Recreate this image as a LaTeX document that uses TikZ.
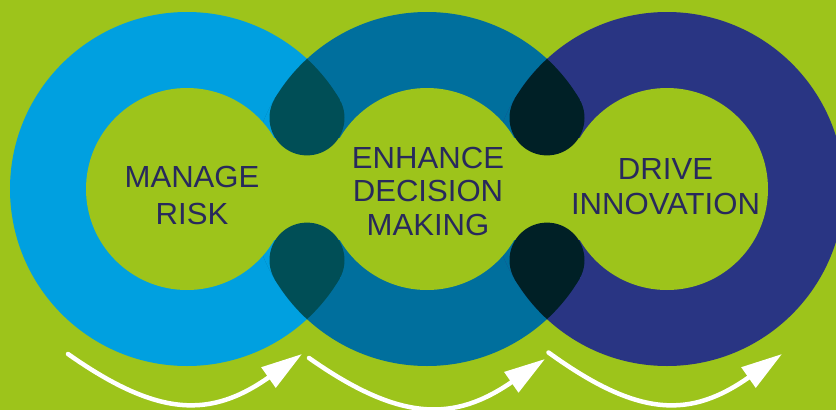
\documentclass[tikz,border=0pt]{standalone}
\usepackage{fontspec}
\setmainfont{Liberation Sans}
\usetikzlibrary{arrows.meta}
\definecolor{bggreen}{RGB}{157,196,27}
\definecolor{ringA}{RGB}{0,160,224}
\definecolor{ringB}{RGB}{0,111,157}
\definecolor{ringC}{RGB}{41,53,131}
\definecolor{dropA}{RGB}{0,78,86}
\definecolor{dropB}{RGB}{0,32,38}
\definecolor{txtnavy}{RGB}{40,41,92}
\begin{document}
\begin{tikzpicture}[x=1pt,y=-1pt,
  lbl/.style={text=txtnavy, font=\fontsize{30.5}{30.5}\selectfont, inner sep=0pt, anchor=base, xscale=1.02},
  flowarrow/.style={draw=white, line width=4.5pt, line cap=round, -{Triangle[length=41pt,width=24pt]}}]
\useasboundingbox (0,0) rectangle (836,410);
\clip (0,0) rectangle (836,410);
\fill[bggreen] (0,0) rectangle (836,410);
\coordinate (c1) at (187,189);
\coordinate (c2) at (427,189);
\coordinate (c3) at (667,189);
% rings
\fill[ringA] (c1) circle[radius=177pt];
\fill[ringB] (c2) circle[radius=177pt];
\fill[ringC] (c3) circle[radius=177pt];
% left halves of lenses keep the left ring colour
\begin{scope}
  \clip (c1) circle[radius=177pt];
  \clip (c2) circle[radius=177pt];
  \fill[ringA] (200,0) rectangle (307,410);
\end{scope}
\begin{scope}
  \clip (c2) circle[radius=177pt];
  \clip (c3) circle[radius=177pt];
  \fill[ringB] (440,0) rectangle (547,410);
\end{scope}
% inner green
\fill[bggreen] (c1) circle[radius=101pt];
\fill[bggreen] (c2) circle[radius=101pt];
\fill[bggreen] (c3) circle[radius=101pt];
\fill[bggreen] (274,137.7) rectangle (341,240.3);
\fill[bggreen] (514,137.7) rectangle (581,240.3);
% drops
\begin{scope}
  \clip (c1) circle[radius=177pt];
  \clip (c2) circle[radius=177pt];
  \fill[dropA] (200,0) rectangle (420,98.8);
  \fill[dropA] (307,117.9) circle[radius=37.5pt];
  \fill[dropA] (307,260.1) circle[radius=37.5pt];
  \fill[dropA] (200,279.2) rectangle (420,410);
\end{scope}
\begin{scope}
  \clip (c2) circle[radius=177pt];
  \clip (c3) circle[radius=177pt];
  \fill[dropB] (440,0) rectangle (660,98.8);
  \fill[dropB] (547,117.9) circle[radius=37.5pt];
  \fill[dropB] (547,260.1) circle[radius=37.5pt];
  \fill[dropB] (440,279.2) rectangle (660,410);
\end{scope}
% labels
\node[lbl] (t1a) at (192,187.3) {MANAGE};
\node[lbl] (t1b) at (192,224) {RISK};
\node[lbl] (t2a) at (428,168.3) {ENHANCE};
\node[lbl] (t2b) at (428,201.7) {DECISION};
\node[lbl] (t2c) at (428,235.7) {MAKING};
\node[lbl] (t3a) at (665.5,179) {DRIVE};
\node[lbl] (t3b) at (665.5,214) {INNOVATION};
% arrows
\coordinate (a1s) at (68,354);
\coordinate (a1e) at (302,354);
\coordinate (a2s) at (309,358);
\coordinate (a2e) at (545,359);
\coordinate (a3s) at (548.5,352.5);
\coordinate (a3e) at (782,354);
\draw[flowarrow] (a1s) .. controls +(91,64) and +(-91,64) .. (a1e);
\draw[flowarrow] (a2s) .. controls +(91,64) and +(-91,63) .. (a2e);
\draw[flowarrow] (a3s) .. controls +(91,66) and +(-91,64) .. (a3e);
\end{tikzpicture}
\end{document}
